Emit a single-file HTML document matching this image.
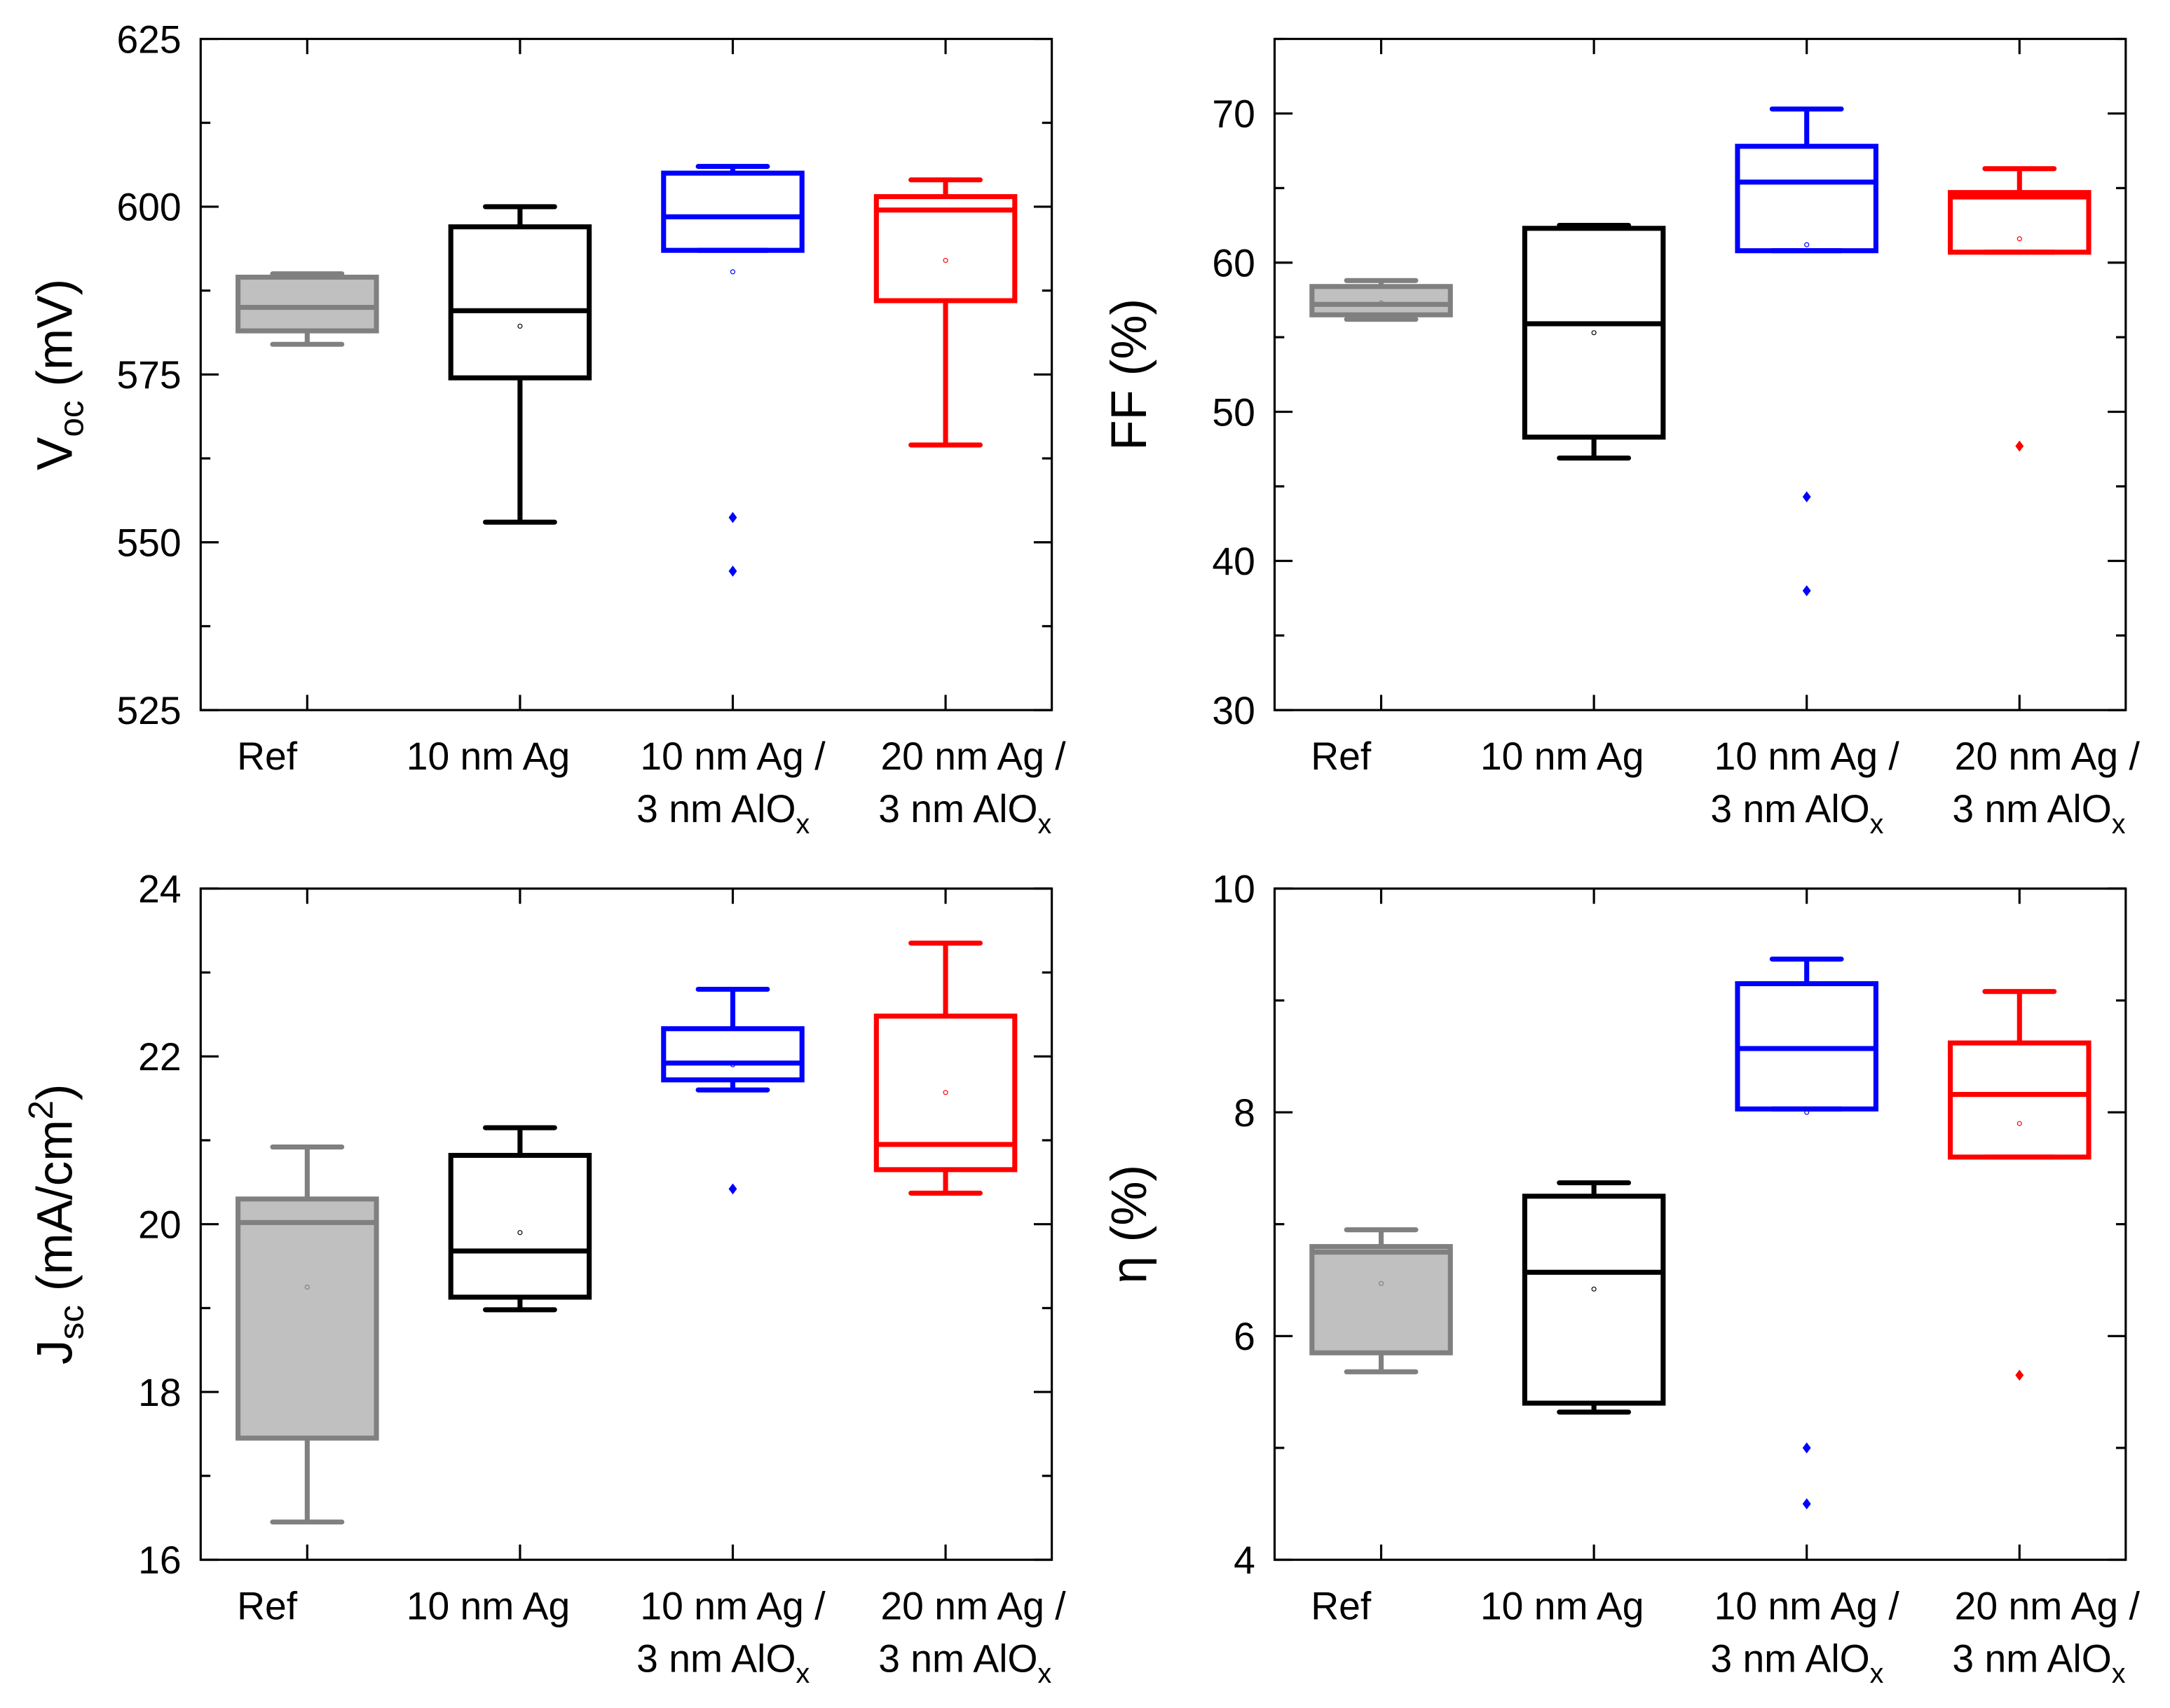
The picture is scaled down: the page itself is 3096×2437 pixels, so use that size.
<!DOCTYPE html>
<html><head><meta charset="utf-8"><style>
html,body{margin:0;padding:0;background:#fff;}
svg{display:block;font-family:"Liberation Sans",sans-serif;}
</style></head><body>
<svg id="chart" xmlns="http://www.w3.org/2000/svg" width="3096" height="2437" viewBox="0 0 1568 1234"></svg>
<script>
const categories = ["Ref", "10 nm Ag", "10 nm Ag /|3 nm AlO", "20 nm Ag /|3 nm AlO"];
const colors = ["#808080", "#000000", "#0000ff", "#ff0000"];
// [whiskerLow, q1, median, q3, whiskerHigh, mean]
const vocStats = [[579.5,581.5,585,589.5,590,585],[553,574.5,584.5,597,600,582.2],[593.5,593.5,598.5,605,606,590.3],[564.5,586,599.5,601.5,604,592]];
const vocOutliers = [[],[],[553.7,545.7],[]];
const ffStats = [[56.2,56.5,57.2,58.4,58.8,57.3],[46.9,48.3,55.9,62.3,62.5,55.3],[60.8,60.8,65.4,67.8,70.3,61.2],[60.7,60.7,64.4,64.7,66.3,61.6]];
const ffOutliers = [[],[],[44.3,38],[47.7]];
const jscStats = [[16.45,17.45,20.02,20.3,20.92,19.25],[18.98,19.13,19.68,20.82,21.15,19.9],[21.6,21.72,21.92,22.33,22.8,21.9],[20.37,20.65,20.95,22.48,23.35,21.57]];
const jscOutliers = [[],[],[20.42],[]];
const etaStats = [[5.68,5.85,6.75,6.8,6.95,6.47],[5.32,5.4,6.57,7.25,7.37,6.42],[8.03,8.03,8.57,9.15,9.37,8.0],[7.6,7.6,8.16,8.62,9.08,7.9]];
const etaOutliers = [[],[],[5.0,4.5],[5.65]];
const vocTicks = [525,550,575,600,625];
const ffTicks = [30,40,50,60,70];
const jscTicks = [16,18,20,22,24];
const etaTicks = [4,6,8,10];

const NS = "http://www.w3.org/2000/svg";
const svg = document.getElementById("chart");
function mk(tag, attrs, parent){
  const e = document.createElementNS(NS, tag);
  for (const k in attrs) e.setAttribute(k, attrs[k]);
  (parent||svg).appendChild(e);
  return e;
}
const lab1Off = [-29,-23,0,20];
const lab2Off = [0,0,-7,14];

function panel(p){
  const g = mk("g", {});
  
  
  const L=p.x, R=p.x+615, T=p.y, B=p.y+485;
  const yS = v => B - (v - p.min)/(p.max - p.min)*(B-T);
  const xS = i => L + 77 + i*153.75;
  const fr = mk("rect",{x:L,y:T,width:R-L,height:B-T,fill:"none",stroke:"#000","stroke-width":1.6},g);
  
  
  const step = p.ticks[1]-p.ticks[0];
  for (let v=p.min; v<=p.max+1e-9; v+=step/2){
    const y=yS(v);
    const major = Math.abs(((v-p.ticks[0])/step) - Math.round((v-p.ticks[0])/step))<1e-6;
    const len = major?13:7;
    mk("line",{x1:L,x2:L+len,y1:y,y2:y,stroke:"#000","stroke-width":1.6},g);
    mk("line",{x1:R,x2:R-len,y1:y,y2:y,stroke:"#000","stroke-width":1.6},g);
  }
  p.ticks.forEach(v=>{
    const t = mk("text",{x:L-14,y:yS(v)+10,"text-anchor":"end","font-size":28},g);
    t.textContent = v;
    
    
  });
  categories.forEach((c,i)=>{
    const x=xS(i);
    mk("line",{x1:x,x2:x,y1:B,y2:B-11,stroke:"#000","stroke-width":1.6},g);
    mk("line",{x1:x,x2:x,y1:T,y2:T+11,stroke:"#000","stroke-width":1.6},g);
    const parts = c.split("|");
    const t1 = mk("text",{x:x+lab1Off[i],y:B+43,"text-anchor":"middle","font-size":28},g);
    t1.textContent = parts[0];
    
    
    if (parts[1]){
      const t2 = mk("text",{x:x+lab2Off[i],y:B+81,"text-anchor":"middle","font-size":28},g);
      t2.textContent = parts[1];
      const s = mk("tspan",{"font-size":20,dy:8},t2);
      s.textContent = "x";
      
      
    }
  });
  p.stats.forEach((s,i)=>{
    const x=xS(i), c=colors[i];
    const bg = mk("g",{},g);
    
    
    const sw=3.6;
    mk("line",{x1:x,x2:x,y1:yS(s[0]),y2:yS(s[1]),stroke:c,"stroke-width":sw},bg);
    mk("line",{x1:x,x2:x,y1:yS(s[3]),y2:yS(s[4]),stroke:c,"stroke-width":sw},bg);
    mk("line",{x1:x-25,x2:x+25,y1:yS(s[0]),y2:yS(s[0]),stroke:c,"stroke-width":sw,"stroke-linecap":"round"},bg);
    mk("line",{x1:x-25,x2:x+25,y1:yS(s[4]),y2:yS(s[4]),stroke:c,"stroke-width":sw,"stroke-linecap":"round"},bg);
    mk("rect",{x:x-50,y:yS(s[3]),width:100,height:yS(s[1])-yS(s[3]),fill:i==0?"#c0c0c0":"none",stroke:c,"stroke-width":sw},bg);
    mk("line",{x1:x-50,x2:x+50,y1:yS(s[2]),y2:yS(s[2]),stroke:c,"stroke-width":sw},bg);
    mk("circle",{cx:x,cy:yS(s[5]),r:1.5,fill:"none",stroke:c,"stroke-width":0.6},bg);
    p.outliers[i].forEach(v=>{
      const y=yS(v);
      const o = mk("polygon",{points:`${x},${y-4} ${x+3},${y} ${x},${y+4} ${x-3},${y}`,fill:c},bg);
      
      
    });
  });
  const cy=(T+B)/2, tx=p.x-93;
  const at = mk("text",{x:tx,y:cy,"text-anchor":"middle","font-size":36,transform:`rotate(-90 ${tx} ${cy})`},g);
  
  
  p.title(at);
}

function sub(el, main, subTxt, rest, sup){
  const a = mk("tspan",{},el); a.textContent = main;
  if (subTxt){ const b = mk("tspan",{"font-size":25,dy:8},el); b.textContent = subTxt;
    const c = mk("tspan",{dy:-8},el); c.textContent = rest; }
  if (sup){ const d = mk("tspan",{"font-size":25,dy:-14},el); d.textContent = sup;
    const e = mk("tspan",{dy:14},el); e.textContent = ")"; }
}

panel({name:"voc-panel",x:145,y:28,min:525,max:625,ticks:vocTicks,stats:vocStats,outliers:vocOutliers,
  title:t=>sub(t,"V","oc"," (mV)")});
panel({name:"ff-panel",x:921,y:28,min:30,max:75,ticks:ffTicks,stats:ffStats,outliers:ffOutliers,
  title:t=>sub(t,"FF (%)")});
panel({name:"jsc-panel",x:145,y:642,min:16,max:24,ticks:jscTicks,stats:jscStats,outliers:jscOutliers,
  title:t=>sub(t,"J","sc"," (mA/cm","2")});
panel({name:"eta-panel",x:921,y:642,min:4,max:10,ticks:etaTicks,stats:etaStats,outliers:etaOutliers,
  title:t=>sub(t,"η (%)")});
</script>
</body></html>
